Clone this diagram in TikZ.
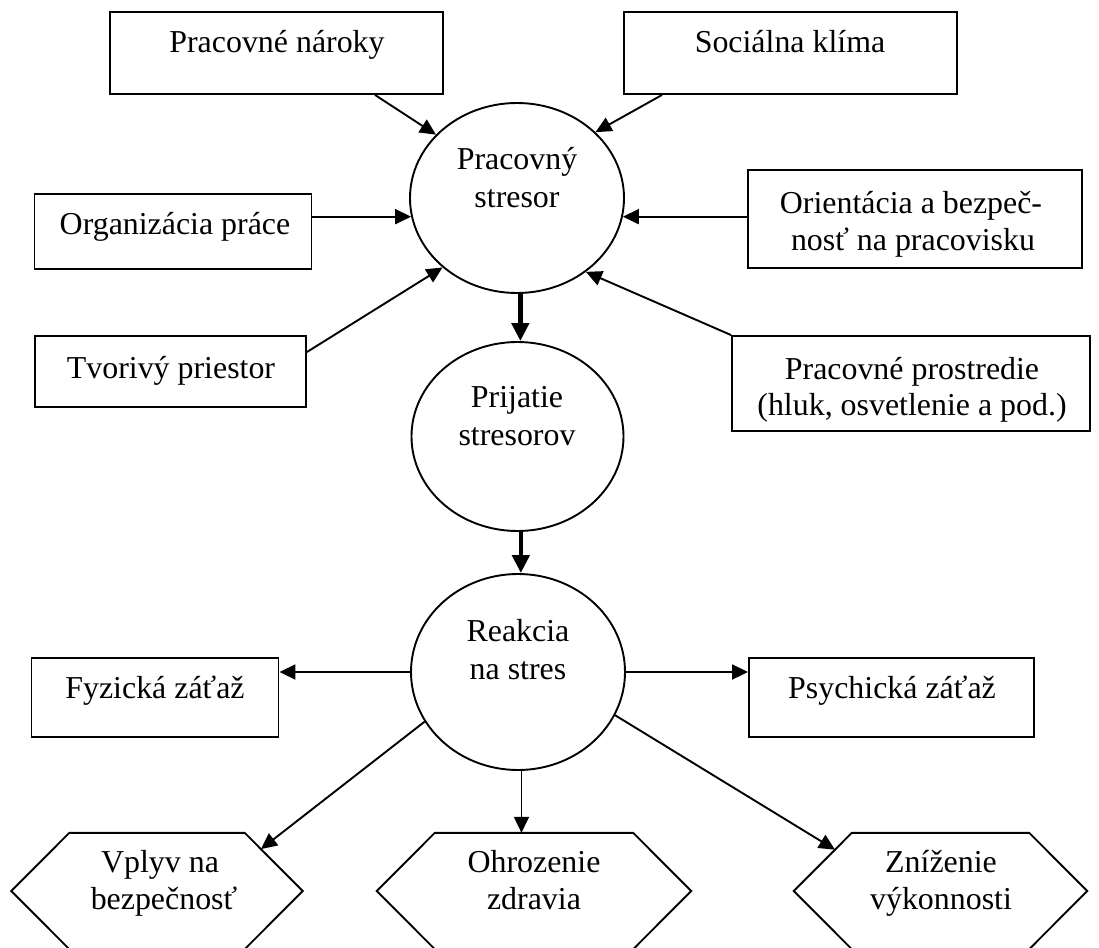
\documentclass[tikz,border=0pt]{standalone}
\usepackage{fontspec}
\setmainfont{Liberation Serif}
\usetikzlibrary{arrows.meta,shapes.geometric,calc}
\tikzset{
  lbl/.style={anchor=base,inner sep=0pt,font=\fontsize{31.9}{38}\selectfont},
  boxnode/.style={draw,line width=1.9pt,rectangle,inner sep=0pt},
  oval/.style={draw,line width=1.9pt,ellipse,inner sep=0pt},
  hexcore/.style={rectangle,inner sep=0pt,minimum height=116pt},
  hexline/.style={line width=1.9pt,line join=miter},
  link/.style={line width=1.9pt,-{Triangle[length=16pt,width=15pt]}},
  flow/.style={line width=4.5pt,-{Triangle[length=18pt,width=17pt]}},
}
\begin{document}
\begin{tikzpicture}[x=1pt,y=-1pt]
\useasboundingbox (0,0) rectangle (1099,947);
\clip (0,0) rectangle (1099,947);

% --- factors acting on the work stressor
\node[boxnode,minimum width=333pt,minimum height=82pt] (nar) at (276.5,53) {};
\node[lbl] (narT) at (277,53) {Pracovné nároky};
\node[boxnode,minimum width=333pt,minimum height=82pt] (soc) at (790.5,53) {};
\node[lbl] (socT) at (790,53) {Sociálna klíma};
\node[boxnode,minimum width=277pt,minimum height=75pt] (org) at (173,231.5) {};
\node[lbl] (orgT) at (175,234) {Organizácia práce};
\node[boxnode,minimum width=334pt,minimum height=98pt] (ori) at (915,219) {};
\node[lbl] (oriT1) at (911,213) {Orientácia a bezpeč-};
\node[lbl] (oriT2) at (913,250) {nosť na pracovisku};
\node[boxnode,minimum width=271pt,minimum height=71pt] (tvo) at (170.5,371.5) {};
\node[lbl] (tvoT) at (171,378) {Tvorivý priestor};
\node[boxnode,minimum width=358pt,minimum height=95pt] (pro) at (911,383.5) {};
\node[lbl] (proT1) at (912,379) {Pracovné prostredie};
\node[lbl] (proT2) at (912,415) {(hluk, osvetlenie a pod.)};

% --- central chain
\node[oval,minimum width=214pt,minimum height=190pt] (ps) at (517,198) {};
\node[lbl] (psT1) at (517,169) {Pracovný};
\node[lbl] (psT2) at (517,207) {stresor};
\node[oval,minimum width=212pt,minimum height=189pt] (pr) at (517.5,436.5) {};
\node[lbl] (prT1) at (517,407) {Prijatie};
\node[lbl] (prT2) at (517,445) {stresorov};
\node[oval,minimum width=214pt,minimum height=196pt] (re) at (518,672) {};
\node[lbl] (reT1) at (518,641) {Reakcia};
\node[lbl] (reT2) at (518,679) {na stres};

% --- loads
\node[boxnode,minimum width=247pt,minimum height=79pt] (fyz) at (155,697.5) {};
\node[lbl] (fyzT) at (155,698) {Fyzická záťaž};
\node[boxnode,minimum width=285pt,minimum height=79pt] (psy) at (891.5,697.5) {};
\node[lbl] (psyT) at (892,698) {Psychická záťaž};

% --- consequences (hexagons)
\node[hexcore,minimum width=175pt] (hv) at (157,891) {};
\draw[hexline] (hv.north west) -- (hv.north east) -- ([xshift=58pt]hv.east)
  -- (hv.south east) -- (hv.south west) -- ([xshift=-58pt]hv.west) -- cycle;
\node[lbl] (hvT1) at (160,872) {Vplyv na};
\node[lbl] (hvT2) at (164,909) {bezpečnosť};
\node[hexcore,minimum width=198pt] (ho) at (534,891) {};
\draw[hexline] (ho.north west) -- (ho.north east) -- ([xshift=58pt]ho.east)
  -- (ho.south east) -- (ho.south west) -- ([xshift=-58pt]ho.west) -- cycle;
\node[lbl] (hoT1) at (534,872) {Ohrozenie};
\node[lbl] (hoT2) at (534,909) {zdravia};
\node[hexcore,minimum width=177pt] (hz) at (940.5,891) {};
\draw[hexline] (hz.north west) -- (hz.north east) -- ([xshift=58pt]hz.east)
  -- (hz.south east) -- (hz.south west) -- ([xshift=-58pt]hz.west) -- cycle;
\node[lbl] (hzT1) at (941,872) {Zníženie};
\node[lbl] (hzT2) at (941,909) {výkonnosti};

\coordinate (hvtip) at ($(hv.north east)!0.28!([xshift=58pt]hv.east)$);
\coordinate (hztip) at ($(hz.north west)!0.29!([xshift=-58pt]hz.west)$);

% --- connectors
\draw[link] ([xshift=98.5pt]nar.south) -- (ps.142.5);
\draw[link] ([xshift=-128.5pt]soc.south) -- (ps.40);
\draw[link] (ps.190 -| org.east) -- (ps.190);
\draw[link] (ps.-10 -| ori.west) -- (ps.-10);
\draw[link] ([yshift=19.5pt]tvo.east) -- (ps.223.5);
\draw[link] (pro.north west) -- (ps.-47.5);
\draw[flow] (ps.-88.5) -- (ps.-88.5 |- pr.north);
\draw[flow] (pr.-88.5) -- (pr.-88.5 |- re.north);
\draw[link] (re.west) -- (re.west -| fyz.east);
\draw[link] (re.east) -- (re.east -| psy.west);
\draw[link] (re.208.5) -- (hvtip);
\draw[link] (re.-88.5) -- (re.-88.5 |- ho.north);
\draw[link] (re.-24.5) -- (hztip);
\end{tikzpicture}
\end{document}
